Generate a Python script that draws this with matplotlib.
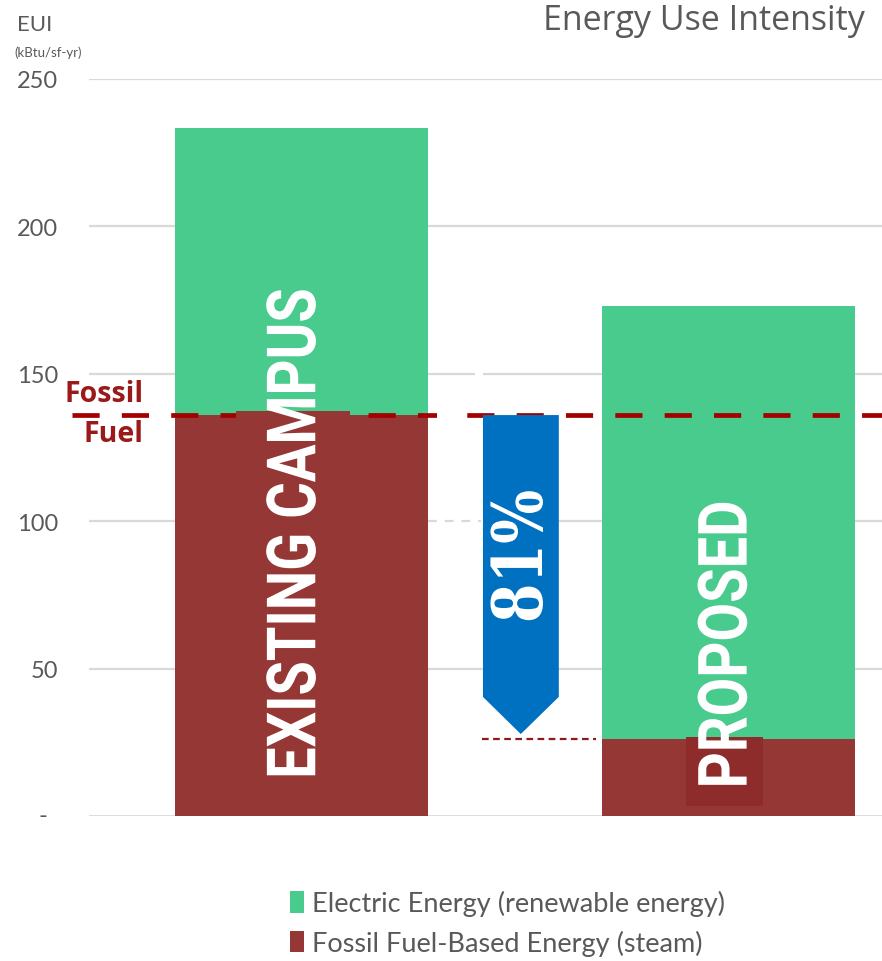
import matplotlib
matplotlib.use("Agg")
import numpy as np
import matplotlib.pyplot as plt
from matplotlib.patches import Rectangle, Polygon, Patch
from matplotlib.patheffects import AbstractPathEffect
from matplotlib.transforms import Affine2D, blended_transform_factory
import matplotlib.font_manager as fm

# ---- data -----------------------------------------------------------------
categories = ["EXISTING CAMPUS", "PROPOSED"]
fossil_energy = [136, 26]        # kBtu/sf-yr, steam
electric_energy = [97.5, 147]    # kBtu/sf-yr, renewable
y_ticks = [0, 50, 100, 150, 200, 250]
y_tick_labels = ["-", "50", "100", "150", "200", "250"]
reduction_label = "81%"
legend_labels = ["Electric Energy (renewable energy)",
                 "Fossil Fuel-Based Energy (steam)"]

# ---- style ----------------------------------------------------------------
GREEN = "#49CB8E"
BROWN = "#953735"
BROWN_DARK = "#8E2B2B"
LINE_RED = "#A30000"
LABEL_RED = "#9A1A1A"
BLUE = "#0070C0"
GRAY_TXT = "#595959"
GRID = "#D9D9D9"

installed = {f.name for f in fm.fontManager.ttflist}
def pick(*names):
    for n in names:
        if n in installed:
            return n
    return "DejaVu Sans"

SANS = pick("Lato", "Open Sans", "DejaVu Sans")
WIDE = pick("Open Sans", "Lato", "DejaVu Sans")
BLOCK = pick("Roboto", "Liberation Sans", "DejaVu Sans")
SERIF = pick("DejaVu Serif", "Liberation Serif")


class Condense(AbstractPathEffect):
    """Squeeze a text run along its baseline so it spans `length` points."""

    def __init__(self, length):
        super().__init__()
        self.length = length

    def draw_path(self, renderer, gc, tpath, affine, rgbFace=None):
        ext = tpath.get_extents()
        p0 = affine.transform((ext.x0, 0.0))
        p1 = affine.transform((ext.x1, 0.0))
        cur = float(np.hypot(*(p1 - p0)))
        sx = renderer.points_to_pixels(self.length) / cur if cur else 1.0
        cx = 0.5 * (ext.x0 + ext.x1)
        squeeze = Affine2D().translate(-cx, 0).scale(sx, 1).translate(cx, 0)
        renderer.draw_path(gc, tpath, squeeze + affine, rgbFace)


W, H = 882, 962
fig = plt.figure(figsize=(W / 100, H / 100), dpi=100)
ax = fig.add_axes([89 / W, (H - 817) / H, (W - 89) / W, (817 - 80) / H])

x = [0, 1]
bar_w = 0.592
ax.set_xlim(-0.497, 1.358)
ax.set_ylim(0, 250)

# gridlines
for t in y_ticks[1:]:
    ax.axhline(t, color=GRID, lw=1.6, zorder=0)
ax.axhline(0, color=GRID, lw=2, zorder=0.5)

# stacked bars
ax.bar(x, fossil_energy, width=bar_w, color=BROWN, zorder=2)
ax.bar(x, electric_energy, bottom=fossil_energy, width=bar_w, color=GREEN, zorder=2)

# light breaks in the grid between the bars
ax.add_patch(Rectangle((0.406, 147), 0.019, 6, facecolor="white",
                       edgecolor="none", zorder=1))
ax.add_patch(Rectangle((0.296, 99), 0.13, 2, facecolor="white",
                       edgecolor="none", zorder=0.2))
ax.plot([0.296, 0.42], [100, 100], color=GRID, lw=1.6,
        linestyle=(0, (4, 3.5)), zorder=0.3)

# fossil fuel reference line at the existing steam level
trans = blended_transform_factory(ax.transAxes, ax.transData)
ax.plot([-0.0215, 1.0], [fossil_energy[0]] * 2, transform=trans, color=LINE_RED,
        lw=3.4, linestyle=(0, (5.75, 4.7)), dash_capstyle="butt",
        clip_on=False, zorder=3)
ax.add_patch(Rectangle((0.318, 132), 0.066, 8, facecolor="white",
                       edgecolor="none", zorder=3.5))
fig.text(144 / W, (H - 395) / H, "Fossil", ha="right", va="center",
         color=LABEL_RED, fontsize=20.5, fontweight="bold", family=WIDE)
fig.text(144 / W, (H - 435) / H, "Fuel", ha="right", va="center",
         color=LABEL_RED, fontsize=20.5, fontweight="bold", family=WIDE)

# label backgrounds inside the bars
ax.add_patch(Rectangle((-0.153, 0), 0.266, fossil_energy[0] + 1.5,
                       facecolor=BROWN, edgecolor="none", zorder=4))
ax.add_patch(Rectangle((0.9, 3.4), 0.18, fossil_energy[1] + 0.8 - 3.4,
                       facecolor=BROWN_DARK, edgecolor="none", zorder=4))

# category labels written vertically inside the bars
ax.text(-0.011, 95.8, categories[0], rotation=90, ha="center", va="center",
        color="white", fontsize=49, fontweight="bold", family=BLOCK, zorder=6,
        path_effects=[Condense(485 * 0.72)])
ax.text(0.998, 58.2, categories[1], rotation=90, ha="center", va="center",
        color="white", fontsize=49, fontweight="bold", family=BLOCK, zorder=6,
        path_effects=[Condense(282 * 0.72)])

# reduction arrow from existing to proposed fossil level
ax_l, ax_r, ax_c = 0.4246, 0.602, 0.513
tip = fossil_energy[1] + 1.8
shoulder = tip + 12.6
ax.add_patch(Polygon([(ax_l, fossil_energy[0]), (ax_r, fossil_energy[0]),
                      (ax_r, shoulder), (ax_c, tip), (ax_l, shoulder)],
                     closed=True, facecolor=BLUE, edgecolor="none", zorder=5))
ax.text(0.517, 88.0, reduction_label, rotation=90, ha="center", va="center",
        color="white", fontsize=50, fontweight="bold", family=SERIF, zorder=6,
        path_effects=[Condense(129 * 0.72)])
ax.plot([0.423, 0.688], [fossil_energy[1]] * 2, color="#8B1A1A", lw=1.6,
        linestyle=(0, (3, 2)), zorder=3)

# axes styling
for s in ax.spines.values():
    s.set_visible(False)
ax.set_xticks([])
ax.set_yticks(y_ticks)
ax.set_yticklabels([""] + y_tick_labels[1:])
ax.tick_params(axis="y", length=0, pad=22, labelsize=17, labelcolor=GRAY_TXT)
for lab in ax.get_yticklabels():
    lab.set_family(SANS)
# the zero label sits a little further left, accounting style
fig.text(47 / W, (H - 817) / H, y_tick_labels[0], ha="right", va="center",
         color=GRAY_TXT, fontsize=17, family=SANS)

# header texts
fig.text(17 / W, (H - 25) / H, "EUI", ha="left", va="center", color=GRAY_TXT,
         fontsize=16, family=SANS)
fig.text(14 / W, (H - 53) / H, "(kBtu/sf-yr)", ha="left", va="center",
         color=GRAY_TXT, fontsize=9.5, family=SANS)
fig.text(865 / W, (H - 21) / H, "Energy Use Intensity", ha="right", va="center",
         color=GRAY_TXT, fontsize=24.5, family=WIDE)

# legend
handles = [Patch(facecolor=GREEN, edgecolor="none"),
           Patch(facecolor=BROWN, edgecolor="none")]
fig.legend(handles, legend_labels, loc="center left",
           bbox_to_anchor=(266 / W, (H - 924) / H), frameon=False,
           prop={"family": SANS, "size": 19.5}, labelcolor=GRAY_TXT,
           handlelength=0.5, handleheight=0.85, handletextpad=0.3,
           labelspacing=0.5)

fig.savefig("out.png", dpi=100)
